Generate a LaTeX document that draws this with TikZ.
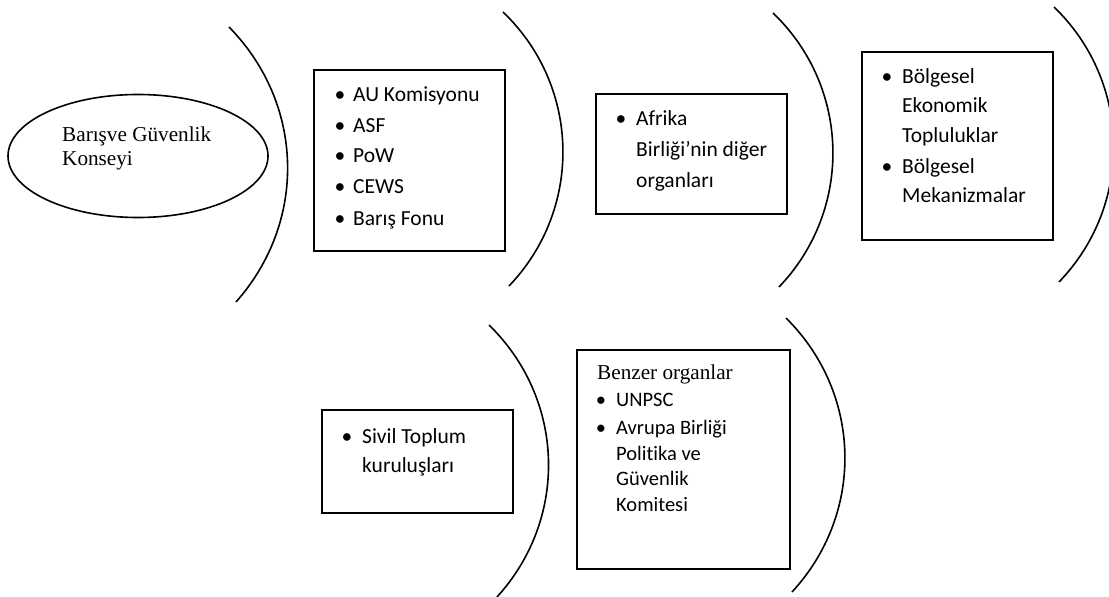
\documentclass[tikz,border=0pt]{standalone}
\usetikzlibrary{shapes.geometric}
\usepackage{fontspec}
\setmainfont{Liberation Serif}
\newfontfamily\calfont[Ligatures=NoCommon]{Carlito}
\begin{document}
\begin{tikzpicture}[x=1bp,y=-1bp,
  arcline/.style={draw, line width=1.6bp},
  boxnode/.style={draw, line width=1.6bp, rectangle, anchor=north west, inner sep=0pt},
  txt/.style={anchor=base west, inner sep=0pt, font=\calfont\fontsize{21.5bp}{25bp}\selectfont},
  bul/.style={anchor=base, inner sep=0pt, font=\calfont\fontsize{21.5bp}{25bp}\selectfont},
  txts/.style={anchor=base west, inner sep=0pt, font=\calfont\fontsize{20.5bp}{24bp}\selectfont},
  buls/.style={anchor=base, inner sep=0pt, font=\calfont\fontsize{20.5bp}{24bp}\selectfont},
  ser/.style={anchor=base west, inner sep=0pt, font=\fontsize{21.2bp}{25bp}\selectfont}
]
\useasboundingbox (0,0) rectangle (1109,597);

% ellipse
\node[draw, ellipse, line width=1.6bp, minimum width=260bp, minimum height=123bp, inner sep=0pt] (ell) at (138,156) {};
\node[ser] (e1) at (62,142) {Barışve Güvenlik};
\node[ser] (e2) at (62,166) {Konseyi};

% boxes
\node[boxnode, minimum width=191bp, minimum height=181bp] (b1) at (313,69) {};
\node[boxnode, minimum width=191bp, minimum height=120bp] (b2) at (595,93) {};
\node[boxnode, minimum width=191bp, minimum height=188bp] (b3) at (861,51) {};
\node[boxnode, minimum width=191bp, minimum height=103bp] (b4) at (321,409) {};
\node[boxnode, minimum width=213bp, minimum height=219bp] (b5) at (576,349) {};

% box 1
\node[bul] (b1u1) at (340,102) {•}; \node[txt] (b1t1) at (353,102) {AU Komisyonu};
\node[bul] (b1u2) at (340,133) {•}; \node[txt] (b1t2) at (353,133) {ASF};
\node[bul] (b1u3) at (340,163) {•}; \node[txt] (b1t3) at (353,163) {PoW};
\node[bul] (b1u4) at (340,194) {•}; \node[txt] (b1t4) at (353,194) {CEWS};
\node[bul] (b1u5) at (340,226) {•}; \node[txt] (b1t5) at (353,226) {Barış Fonu};

% box 2
\node[bul] (b2u1) at (621,126) {•}; \node[txt] (b2t1) at (636,126) {Afrika};
\node[txt] (b2t2) at (636,157) {Birliği’nin diğer};
\node[txt] (b2t3) at (636,188) {organları};

% box 3
\node[bul] (b3u1) at (887,84) {•}; \node[txt] (b3t1) at (902,84) {Bölgesel};
\node[txt] (b3t2) at (902,113) {Ekonomik};
\node[txt] (b3t3) at (902,143) {Topluluklar};
\node[bul] (b3u2) at (887,174) {•}; \node[txt] (b3t4) at (902,174) {Bölgesel};
\node[txt] (b3t5) at (902,203) {Mekanizmalar};

% box 4
\node[bul] (b4u1) at (347,443) {•}; \node[txt] (b4t1) at (362,443) {Sivil Toplum};
\node[txt] (b4t2) at (362,472) {kuruluşları};

% box 5
\node[ser] (b5h) at (597,379) {Benzer organlar};
\node[buls] (b5u1) at (601,406) {•}; \node[txts] (b5t1) at (616,406) {UNPSC};
\node[buls] (b5u2) at (601,434) {•}; \node[txts] (b5t2) at (616,434) {Avrupa Birliği};
\node[txts] (b5t3) at (616,460) {Politika ve};
\node[txts] (b5t4) at (616,485) {Güvenlik};
\node[txts] (b5t5) at (616,511) {Komitesi};

% arcs
\coordinate (a1t) at (229,27);  \coordinate (a1b) at (236,302);
\coordinate (a2t) at (503,12);  \coordinate (a2b) at (509,286);
\coordinate (a3t) at (773,13);  \coordinate (a3b) at (779,287);
\coordinate (a4t) at (1054,7);  \coordinate (a4b) at (1059,282);
\coordinate (a5t) at (489,325); \coordinate (a5b) at (497,597);
\coordinate (a6t) at (786,318); \coordinate (a6b) at (792,592);
\draw[arcline] (a1t) to[bend left=43] (a1b);
\draw[arcline] (a2t) to[bend left=45] (a2b);
\draw[arcline] (a3t) to[bend left=45] (a3b);
\draw[arcline] (a4t) to[bend left=45] (a4b);
\draw[arcline] (a5t) to[bend left=44] (a5b);
\draw[arcline] (a6t) to[bend left=44] (a6b);
\end{tikzpicture}
\end{document}
